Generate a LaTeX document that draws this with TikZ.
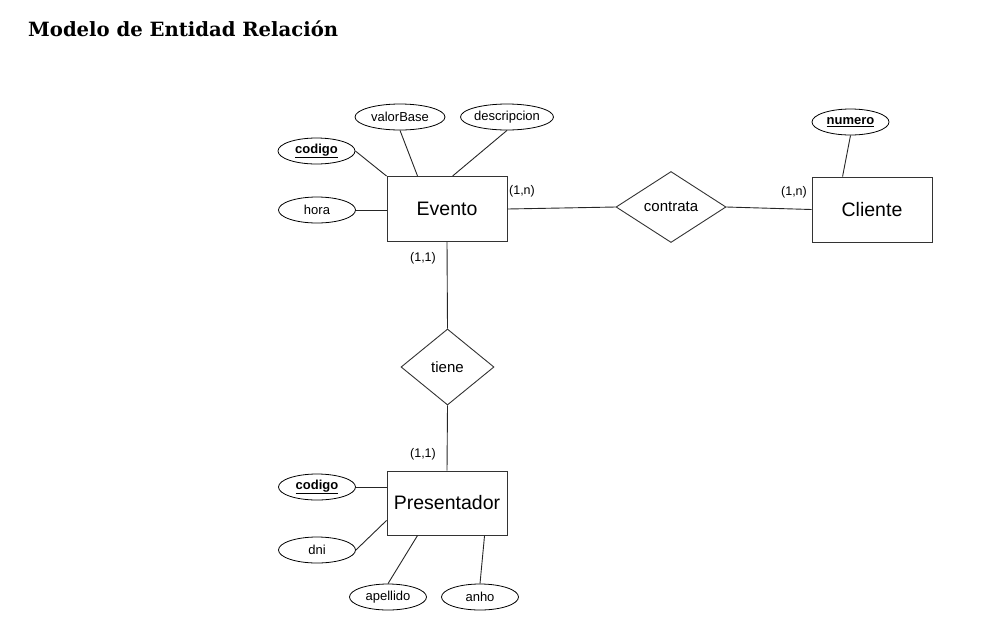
\documentclass[tikz,border=0pt]{standalone}
\usepackage{fontspec}
\setmainfont{Liberation Sans}
\newfontfamily\titlefont{DejaVu Serif}
\usetikzlibrary{shapes.geometric}
\tikzset{
  ent/.style={draw=black!80, line width=0.9pt, rectangle, minimum width=120pt, minimum height=65pt, inner sep=0pt, font=\fontsize{19.5}{22}\selectfont},
  rel/.style={draw=black!80, line width=0.9pt, diamond, inner sep=0pt, font=\fontsize{15}{17}\selectfont},
  attr/.style={draw=black, line width=0.8pt, ellipse, minimum width=77pt, minimum height=26pt, inner sep=0pt, font=\fontsize{13}{15}\selectfont},
  card/.style={inner sep=0pt, font=\fontsize{12.5}{14}\selectfont},
  conn/.style={draw=black!85, line width=0.9pt}
}
\begin{document}
\begin{tikzpicture}[x=1pt,y=-1pt]
\useasboundingbox (0,0) rectangle (995,641);
\node[anchor=base west, inner sep=0pt] (title) at (28,36) {\resizebox{310pt}{!}{\titlefont\bfseries Modelo de Entidad Relación}};

% entities
\node[ent] (ev) at (447,209) {Evento};
\node[ent] (cl) at (872,209.5) {Cliente};
\node[ent, minimum height=64pt] (pr) at (447,503) {Presentador};

% relationships
\node[rel, minimum width=110pt, minimum height=71pt] (con) at (671,207) {contrata};
\node[rel, minimum width=93pt, minimum height=76pt] (ti) at (447.5,367) {tiene};

% attributes
\node[attr, minimum width=90pt] (vb) at (400,117) {valorBase};
\node[attr, minimum width=88pt] (desc) at (507,117) {descripcion};
\node[attr] (c1) at (316.5,151) {\textbf{\underline{codigo}}};
\node[attr] (hora) at (317,210) {hora};
\node[attr] (num) at (850.5,122) {\textbf{\underline{numero}}};
\node[attr] (c2) at (317,487) {\textbf{\underline{codigo}}};
\node[attr] (dni) at (317,550) {dni};
\node[attr] (ap) at (388,597) {apellido};
\node[attr] (an) at (480,597) {anho};

% cardinalities
\node[card] (k1) at (522,191) {(1,n)};
\node[card] (k2) at (794,192) {(1,n)};
\node[card] (k3) at (423,258) {(1,1)};
\node[card] (k4) at (423,454) {(1,1)};

% connectors
\draw[conn] (c1.east) -- (ev.north west);
\draw[conn] (vb.south) -- ([xshift=31pt]ev.north west);
\draw[conn] (desc.south) -- ([xshift=66pt]ev.north west);
\draw[conn] (hora.east) -- (hora.east -| ev.west);
\draw[conn] (ev.east) -- (con.west);
\draw[conn] (con.east) -- (cl.west);
\draw[conn] (num.south) -- ([xshift=31pt]cl.north west);
\draw[conn] (ev.south) -- (ti.north);
\draw[conn] (ti.south) -- (pr.north);
\draw[conn] (c2.east) -- (c2.east -| pr.west);
\draw[conn] (dni.east) -- ([yshift=15pt]pr.south west);
\draw[conn] (ap.north) -- ([xshift=31pt]pr.south west);
\draw[conn] (an.north) -- ([xshift=98pt]pr.south west);
\end{tikzpicture}
\end{document}
